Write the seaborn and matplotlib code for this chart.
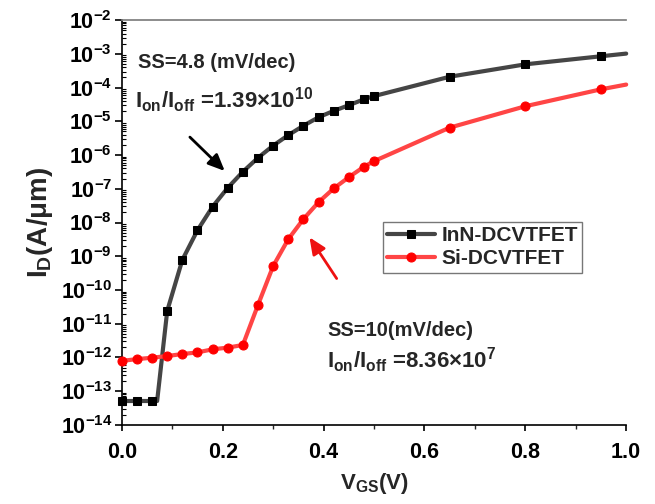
import numpy as np
import pandas as pd
import seaborn as sns
import matplotlib.pyplot as plt
from matplotlib.ticker import LogLocator, NullFormatter, MultipleLocator

# ----------------- Data -----------------
vgs_inn = [0.00, 0.03, 0.06, 0.07, 0.09, 0.12, 0.15, 0.18, 0.21, 0.24, 0.27,
           0.30, 0.33, 0.36, 0.39, 0.42, 0.45, 0.48, 0.50, 0.65, 0.80, 0.95, 1.00]
id_inn = [5.1e-14, 5.1e-14, 5.1e-14, 5.1e-14, 2.4e-11, 7.8e-10, 5.9e-9, 2.95e-8,
          1.07e-7, 3.2e-7, 8.3e-7, 1.9e-6, 3.9e-6, 7.4e-6, 1.32e-5, 2.04e-5,
          3.0e-5, 4.5e-5, 5.6e-5, 2.1e-4, 4.9e-4, 8.5e-4, 1.02e-3]
marks_inn = [0, 1, 2, 4, 5, 6, 7, 8, 9, 10, 11, 12, 13, 14, 15, 16, 17, 18, 19, 20, 21]

vgs_si = [0.00, 0.03, 0.06, 0.09, 0.12, 0.15, 0.18, 0.21, 0.24, 0.27, 0.30,
          0.33, 0.36, 0.39, 0.42, 0.45, 0.48, 0.50, 0.65, 0.80, 0.95, 1.00]
id_si = [7.9e-13, 8.9e-13, 9.8e-13, 1.10e-12, 1.26e-12, 1.41e-12, 1.74e-12,
         1.95e-12, 2.34e-12, 3.6e-11, 5.1e-10, 3.2e-9, 1.26e-8, 4.0e-8, 1.02e-7,
         2.2e-7, 4.5e-7, 6.6e-7, 6.5e-6, 2.8e-5, 8.9e-5, 1.23e-4]
marks_si = list(range(len(vgs_si) - 1))

labels = ["InN-DCVTFET", "Si-DCVTFET"]

# ----------------- Style -----------------
sns.set_theme(style="ticks")
plt.rcParams["font.family"] = ["Liberation Sans", "DejaVu Sans"]
plt.rcParams["font.weight"] = "bold"
plt.rcParams["axes.labelweight"] = "bold"
plt.rcParams["mathtext.default"] = "regular"

fig, ax = plt.subplots(figsize=(6.55, 5.04), dpi=100)
fig.subplots_adjust(left=0.186, right=0.956, bottom=0.157, top=0.960)

df_inn = pd.DataFrame({"vgs": vgs_inn, "id": id_inn})
df_si = pd.DataFrame({"vgs": vgs_si, "id": id_si})

sns.lineplot(data=df_inn, x="vgs", y="id", ax=ax, color="#454545", lw=3.0,
             marker="s", markersize=5.5, markerfacecolor="black",
             markeredgecolor="black", markevery=marks_inn, label=labels[0],
             clip_on=False, zorder=3)
sns.lineplot(data=df_si, x="vgs", y="id", ax=ax, color="#ff4545", lw=3.0,
             marker="o", markersize=6.5, markerfacecolor="#ff0000",
             markeredgecolor="#ff0000", markevery=marks_si, label=labels[1],
             clip_on=False, zorder=3)

# ----------------- Axes -----------------
ax.set_yscale("log")
ax.set_xlim(0, 1.0)
ax.set_ylim(1e-14, 1e-2)
ax.set_yticks([10.0 ** k for k in range(-14, -1)])
ax.yaxis.set_minor_locator(LogLocator(base=10, subs=np.arange(2, 10), numticks=100))
ax.yaxis.set_minor_formatter(NullFormatter())
ax.xaxis.set_major_locator(MultipleLocator(0.2))
ax.xaxis.set_minor_locator(MultipleLocator(0.1))
ax.xaxis.set_major_formatter(plt.FuncFormatter(lambda v, p: f"{v:.1f}"))

ax.spines["right"].set_visible(False)
ax.spines["top"].set_color("#7f7f7f")
for s in ["left", "bottom"]:
    ax.spines[s].set_color("black")
    ax.spines[s].set_linewidth(1.2)

ax.tick_params(axis="x", which="major", direction="out", length=4, width=1.2,
               labelsize=15.5, pad=8, colors="black")
ax.tick_params(axis="x", which="minor", direction="out", length=3, width=1.0)
ax.tick_params(axis="y", which="major", direction="out", length=5, width=1.2,
               labelsize=15.5, pad=2, colors="black")
ax.tick_params(axis="y", which="minor", direction="in", length=3, width=0.8,
               colors="black")

ax.set_xlabel("$V_{GS}$(V)", fontsize=16, fontweight="bold", labelpad=6)
ax.set_ylabel("$I_D$(A/μm)", fontsize=20, fontweight="bold", labelpad=4)

# ----------------- Annotations -----------------
ax.text(0.032, 10 ** -3.27, "SS=4.8 (mV/dec)", fontsize=14.5, fontweight="bold",
        va="center", ha="left")
ax.text(0.026, 10 ** -4.37, "$I_{on}/I_{off}$ =1.39×10$^{10}$", fontsize=16,
        fontweight="bold", va="center", ha="left")
ax.text(0.407, 10 ** -11.19, "SS=10(mV/dec)", fontsize=14.5, fontweight="bold",
        va="center", ha="left")
ax.text(0.407, 10 ** -12.07, "$I_{on}/I_{off}$ =8.36×10$^{7}$", fontsize=16,
        fontweight="bold", va="center", ha="left")

ax.annotate("", xy=(0.208, 10 ** -6.53), xytext=(0.131, 10 ** -5.41),
            arrowprops=dict(arrowstyle="-|>,head_length=0.5,head_width=0.22",
                            color="black", lw=2.0, mutation_scale=20))
ax.annotate("", xy=(0.369, 10 ** -8.37), xytext=(0.429, 10 ** -9.73),
            arrowprops=dict(arrowstyle="-|>,head_length=0.5,head_width=0.22",
                            color="#ee1111", lw=2.0, mutation_scale=20))

leg = ax.legend(loc="upper left", bbox_to_anchor=(0.518, 0.501), fontsize=15,
                frameon=True, fancybox=False, handlelength=2.3,
                handletextpad=0.3, borderpad=0.2, labelspacing=0.2,
                borderaxespad=0)
leg.get_frame().set_edgecolor("#555555")
leg.get_frame().set_linewidth(1.0)
for t in leg.get_texts():
    t.set_fontweight("bold")

fig.savefig("out.png", dpi=100, facecolor="white")
